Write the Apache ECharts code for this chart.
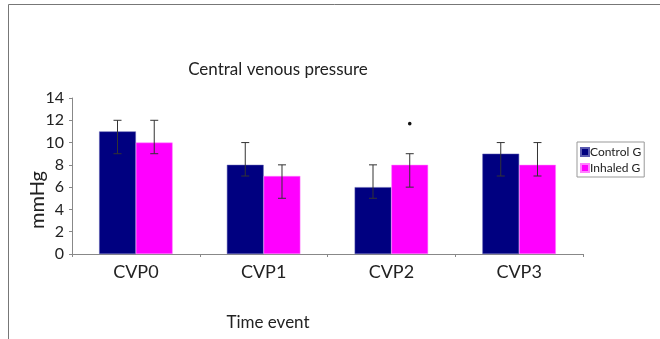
<!DOCTYPE html>
<html>
<head>
<meta charset="utf-8">
<script src="https://cdn.jsdelivr.net/npm/echarts@6/dist/echarts.min.js"></script>
<style>
	html, body { margin: 0; padding: 0; background: #fff; }
	#main { width: 660px; height: 339px; }
</style>
</head>
<body>
<div id="main"></div>
<script>
const categories = ['CVP0', 'CVP1', 'CVP2', 'CVP3']
const seriesNames = ['Control G', 'Inhaled G']
const controlMean = [11, 8, 6, 9]
const controlLow = [9, 7, 5, 7]
const controlHigh = [12, 10, 8, 10]
const inhaledMean = [10, 7, 8, 8]
const inhaledLow = [9, 5, 6, 7]
const inhaledHigh = [12, 8, 9, 10]
// significance mark (small dot above inhaled bar)
const inhaledSig = [null, null, 11.7, null]
const yTicks = [0, 2, 4, 6, 8, 10, 12, 14]

const barWidthRatio = 0.2875
const fontFamily = 'Lato, "Open Sans", sans-serif'

const chart = echarts.init(document.getElementById('main'))

// side: -1 = left bar, 1 = right bar
const errorSeries = (name, low, high, side, sig) => ({
	name: name,
	type: 'custom',
	z: 5,
	renderItem: (params, api) => {
		const i = api.value(0)
		const band = api.size([1, 0])[0]
		const dx = side * band * barWidthRatio / 2
		const top = api.coord([i, api.value(2)])
		const bot = api.coord([i, api.value(1)])
		const x = top[0] + dx
		const cap = 4
		const style = { stroke: '#333', lineWidth: 1 }
		const children = [
			{ type: 'line', shape: { x1: x, y1: top[1], x2: x, y2: bot[1] }, style: style },
			{ type: 'line', shape: { x1: x - cap, y1: top[1], x2: x + cap, y2: top[1] }, style: style },
			{ type: 'line', shape: { x1: x - cap, y1: bot[1], x2: x + cap, y2: bot[1] }, style: style }
		]
		const s = sig[i]
		if (s != null) {
			const p = api.coord([i, s])
			children.push({ type: 'circle', shape: { cx: x, cy: p[1], r: 1.8 }, style: { fill: '#111' } })
		}
		return { type: 'group', children: children }
	},
	encode: { x: 0, y: [1, 2] },
	data: categories.map((c, i) => [i, low[i], high[i]])
})

const option = {
	animation: false,
	textStyle: { fontFamily: fontFamily },
	title: {
		text: 'Central venous pressure',
		left: 273,
		top: 56,
		textAlign: 'center',
		textStyle: { fontFamily: fontFamily, fontSize: 17, fontWeight: 'normal', color: '#222' }
	},
	legend: {
		data: seriesNames,
		orient: 'vertical',
		left: 577,
		top: 142,
		itemWidth: 8,
		itemHeight: 8,
		itemGap: 4,
		padding: [4, 3, 3, 3],
		borderColor: '#999',
		borderWidth: 1,
		icon: 'rect',
		textStyle: { fontFamily: fontFamily, fontSize: 12, color: '#222', padding: [0, 0, 0, -4] }
	},
	grid: { left: 72, right: 77, top: 98, bottom: 85 },
	xAxis: {
		type: 'category',
		data: categories,
		axisLine: { lineStyle: { color: '#888' } },
		axisTick: { show: true, length: 3, lineStyle: { color: '#888' } },
		axisLabel: { fontFamily: fontFamily, fontSize: 18, color: '#222', margin: 9 }
	},
	yAxis: {
		type: 'value',
		min: 0,
		max: 14,
		interval: 2,
		axisLine: { show: true, lineStyle: { color: '#888' } },
		axisTick: { show: true, length: 3, lineStyle: { color: '#888' } },
		splitLine: { show: false },
		axisLabel: {
			fontFamily: fontFamily, fontSize: 16, color: '#222', margin: 8,
			formatter: v => (yTicks.indexOf(v) >= 0 ? String(v) : '')
		}
	},
	graphic: [
		{
			type: 'rect',
			shape: { x: 8.5, y: 4.5, width: 700, height: 400 },
			style: { fill: 'none', stroke: '#777', lineWidth: 1 },
			silent: true
		},
		{
			type: 'text',
			x: 38,
			y: 200,
			rotation: Math.PI / 2,
			style: { text: 'mmHg', fontFamily: fontFamily, fontSize: 20, fill: '#222', align: 'center', verticalAlign: 'middle' }
		},
		{
			type: 'text',
			x: 268,
			y: 323,
			style: { text: 'Time event', fontFamily: fontFamily, fontSize: 17, fill: '#222', align: 'center', verticalAlign: 'middle' }
		}
	],
	series: [
		{
			name: seriesNames[0],
			type: 'bar',
			barWidth: (barWidthRatio * 100) + '%',
			barGap: '0%',
			itemStyle: { color: '#000080', borderColor: '#5a5ab0', borderWidth: 0.5 },
			data: controlMean
		},
		{
			name: seriesNames[1],
			type: 'bar',
			barWidth: (barWidthRatio * 100) + '%',
			barGap: '0%',
			itemStyle: { color: '#ff00ff', borderColor: '#ff80ff', borderWidth: 0.5 },
			data: inhaledMean
		},
		errorSeries('errControl', controlLow, controlHigh, -1, [null, null, null, null]),
		errorSeries('errInhaled', inhaledLow, inhaledHigh, 1, inhaledSig)
	]
}

chart.setOption(option)
window.addEventListener('resize', () => {
	chart.resize()
})
</script>
</body>
</html>
